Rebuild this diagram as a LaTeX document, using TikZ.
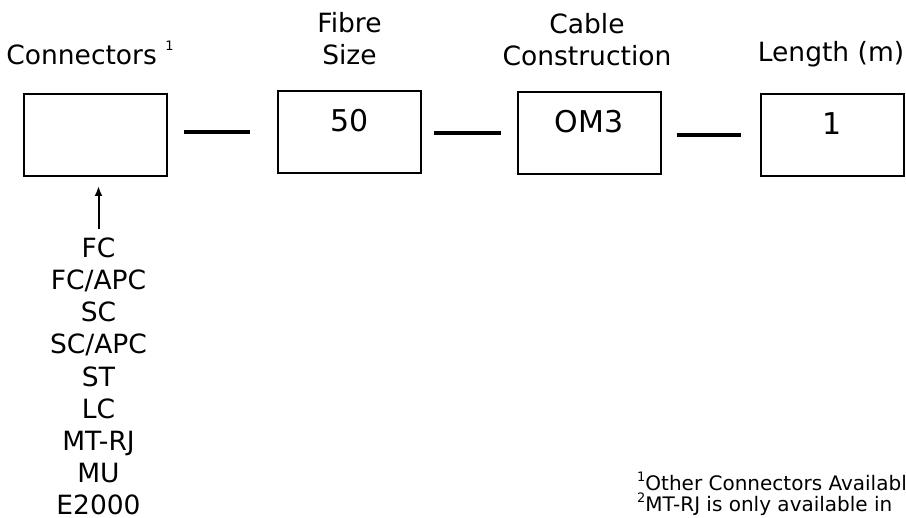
\documentclass[tikz,border=0pt]{standalone}
\usepackage{fontspec}
\setmainfont{DejaVu Sans}
\usetikzlibrary{arrows.meta}
\newcommand{\fnmark}[2]{\raisebox{#2}{\fontsize{13}{13}\selectfont #1}}

\begin{document}
\begin{tikzpicture}[x=1pt,y=-1pt,
  box/.style={draw,line width=2pt,minimum width=143pt,minimum height=82pt,inner sep=0pt,
    font=\fontsize{30}{30}\selectfont,text height=22pt,text depth=22pt},
  head/.style={align=center,inner sep=0pt,anchor=base,font=\fontsize{26.5}{32}\selectfont},
  note/.style={inner sep=0pt,anchor=base west,font=\fontsize{20}{21}\selectfont},
  link/.style={line width=4pt}]
\useasboundingbox (0,0) rectangle (906,518);

\node[box] (conn) at (95.5,135) {};
\node[box] (fibre) at (349.5,132) {50};
\node[box] (cable) at (589,133) {OM3};
\node[box] (len) at (832.5,135) {1};

\node[head] (connhead) at (90,65) {Connectors\ \fnmark{1}{14pt}};
\node[head] (fibrehead) at (349.5,65) {Fibre\\Size};
\node[head] (cablehead) at (587,66) {Cable\\Construction};
\node[head] (lenhead) at (831,62) {Length (m)};

\draw[link] ([xshift=16pt]conn.east |- fibre.west) -- ([xshift=-27pt]fibre.west);
\draw[link] ([xshift=12pt]fibre.east |- cable.west) -- ([xshift=-16pt]cable.west);
\draw[link] ([xshift=15pt]cable.east |- len.west) -- ([xshift=-19pt]len.west);

\node[head,font=\fontsize{26.5}{32.25}\selectfont] (list) at (98.5,515)
  {FC\\FC/APC\\SC\\SC/APC\\ST\\LC\\MT-RJ\\MU\\E2000};
\draw[-{Latex[length=10pt,width=8pt]},line width=2pt,shorten >=9pt,shorten <=8pt]
  (list.north) -- (list.north |- conn.south);

\node[note] (note1) at (637,491) {\fnmark{1}{9pt}Other Connectors Availabl};
\node[note] (note2) at (637,512) {\fnmark{2}{9pt}MT-RJ is only available in};

\end{tikzpicture}
\end{document}
